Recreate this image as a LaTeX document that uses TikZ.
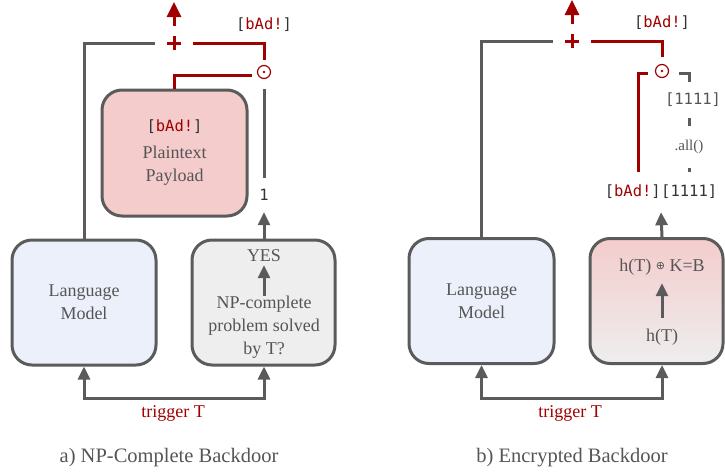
\documentclass[tikz,border=0pt]{standalone}
\usepackage{fontspec}
\setmainfont{Liberation Serif}
\setmonofont{DejaVu Sans Mono}
\newfontfamily\dejavu{DejaVu Sans}
\usetikzlibrary{arrows.meta,calc}
\definecolor{gc}{HTML}{5B5B5B}
\definecolor{tc}{HTML}{555555}
\definecolor{rc}{HTML}{A00000}
\definecolor{pinkc}{HTML}{F4CCCC}
\definecolor{bluec}{HTML}{ECF0FB}
\definecolor{grayc}{HTML}{EEEEEE}
\definecolor{bc}{HTML}{333333}
\newcommand{\badtxt}{\textcolor{bc}{[}\textcolor{rc}{bAd!}\textcolor{bc}{]}}
\begin{document}
\begin{tikzpicture}[x=1pt,y=-1pt,
  box/.style={draw=gc, line width=3pt, rounded corners=20pt, inner sep=0pt, text=tc, align=center, font=\fontsize{18}{23}\selectfont},
  gline/.style={draw=gc, line width=3pt},
  rline/.style={draw=rc, line width=3pt},
  garrow/.style={gline, -{Triangle[width=12pt,length=13pt]}},
  gboth/.style={gline, {Triangle[width=12pt,length=13pt]}-{Triangle[width=12pt,length=13pt]}},
  rarrow/.style={rline, -{Triangle[width=14pt,length=15pt]}},
  lbl/.style={text=tc, font=\fontsize{18}{23}\selectfont, align=center, inner sep=0pt},
  mono/.style={font=\ttfamily\fontsize{15.5}{18}\selectfont, inner sep=0pt},
  captext/.style={text=tc, font=\fontsize{20.5}{24}\selectfont, inner sep=0pt},
  trig/.style={text=rc, font=\fontsize{18}{22}\selectfont, inner sep=0pt},
  plusnode/.style={minimum width=38pt, minimum height=34pt, inner sep=0pt,
    path picture={
      \draw[rc, line width=3pt] ([xshift=-7pt]path picture bounding box.center) -- ([xshift=7pt]path picture bounding box.center);
      \draw[rc, line width=3pt] ([yshift=-7pt]path picture bounding box.center) -- ([yshift=7pt]path picture bounding box.center);
    }},
  odotnode/.style={circle, minimum size=#1, inner sep=0pt,
    path picture={
      \draw[rc, line width=1.2pt] (path picture bounding box.center) circle[radius=6.5pt];
      \fill[rc] (path picture bounding box.center) circle[radius=1.4pt];
    }},
]
\useasboundingbox (0,0) rectangle (725,471);

% ================= Panel a =================
\node[box, fill=bluec, minimum width=144pt, minimum height=125pt] (lmA) at (84,302.5) {Language\\Model};
\node[box, fill=grayc, minimum width=143pt, minimum height=125pt] (npA) at (263.5,302.5) {};
\node[lbl, minimum height=18pt] (yesA) at (264,256) {YES};
\node[lbl] (nptA) at (264,327) {NP-complete\\problem solved\\by T?};
\draw[garrow] (nptA.north) -- (yesA.south);

\node[box, fill=pinkc, minimum width=145pt, minimum height=126pt] (payA) at (174.5,153) {{\ttfamily\fontsize{15.5}{18}\selectfont\badtxt}\\[4pt]Plaintext\\Payload};

\node[plusnode] (plusA) at (174,43) {};
\coordinate (topA) at (174,2);
\node[odotnode=24pt] (odotA) at (264,72) {};
\node[mono, text=bc] (badA) at (264,25) {\badtxt};
\node[mono, text=bc, minimum height=34pt] (oneA) at (264,195) {1};

\draw[rarrow] (plusA.north) -- (topA);
\draw[gline] (lmA.north) |- (plusA.west);
\draw[rline] (plusA.east) -| (odotA.north);
\draw[rline] (payA.north) |- ([yshift=-3pt]odotA.west);
\draw[gline, shorten <=5pt] (odotA.south) -- (oneA.north);
\draw[garrow] (npA.north -| oneA.south) -- (oneA.south);

\coordinate (busA) at (173,398);
\node[trig] (trigA) at (173,413) {trigger T};
\draw[gboth] (lmA.south) |- (busA) -| (npA.south -| oneA.south);

\node[captext] (capA) at (169,458) {a) NP-Complete Backdoor};

% ================= Panel b =================
\node[box, fill=bluec, minimum width=145pt, minimum height=125pt] (lmB) at (481.5,301) {Language\\Model};
\node[box, top color=pinkc, bottom color=grayc, minimum width=133pt, minimum height=125pt] (hB) at (656.5,301) {};
\coordinate (hx) at (662,301);
\node[lbl, minimum height=32pt] (hx1) at (662,267) {h(T) \raisebox{1.5pt}{\dejavu\fontsize{11}{12}\selectfont ⊕} K=B};
\node[lbl, minimum height=38pt] (hx2) at (662,337) {h(T)};
\draw[garrow] (hx2.north) -- (hx1.south);

\node[plusnode] (plusB) at (572,41) {};
\coordinate (topB) at (572,0);
\node[odotnode=28pt] (odotB) at (662,71) {};
\node[mono, text=bc] (badB0) at (662,23) {\badtxt};

\node[mono, text=bc, anchor=east, minimum height=40pt] (badB) at (661,192) {\badtxt};
\node[mono, text=bc, anchor=west, minimum height=40pt] (onesB) at (661,192) {[1111]};
\node[mono, text=tc, minimum height=36pt] (ones1) at (693,100) {[1111]};
\node[text=tc, font=\fontsize{15}{18}\selectfont, inner sep=0pt, minimum height=42pt] (allB) at (689,147) {.all()};
\coordinate (rB) at (638,172);

\draw[rarrow] (plusB.north) -- (topB);
\draw[gline] (lmB.north) |- (plusB.west);
\draw[rline] (plusB.east) -| (odotB.north);
\draw[rline] (rB) |- ([yshift=-2pt]odotB.west);
\draw[gline] ([xshift=3pt,yshift=-2pt]odotB.east) -| (ones1.north -| allB.north);
\draw[gline] (ones1.south -| allB.north) -- (allB.north);
\draw[gline] (allB.south) -- (allB.south |- onesB.north);
\draw[garrow] (hB.north -| hx) -- (onesB.south west);

\coordinate (busB) at (570,398);
\node[trig] (trigB) at (570,413) {trigger T};
\draw[gboth] (lmB.south) |- (busB) -| (hB.south -| hx);

\node[captext] (capB) at (572,458) {b) Encrypted Backdoor};
\end{tikzpicture}
\end{document}
